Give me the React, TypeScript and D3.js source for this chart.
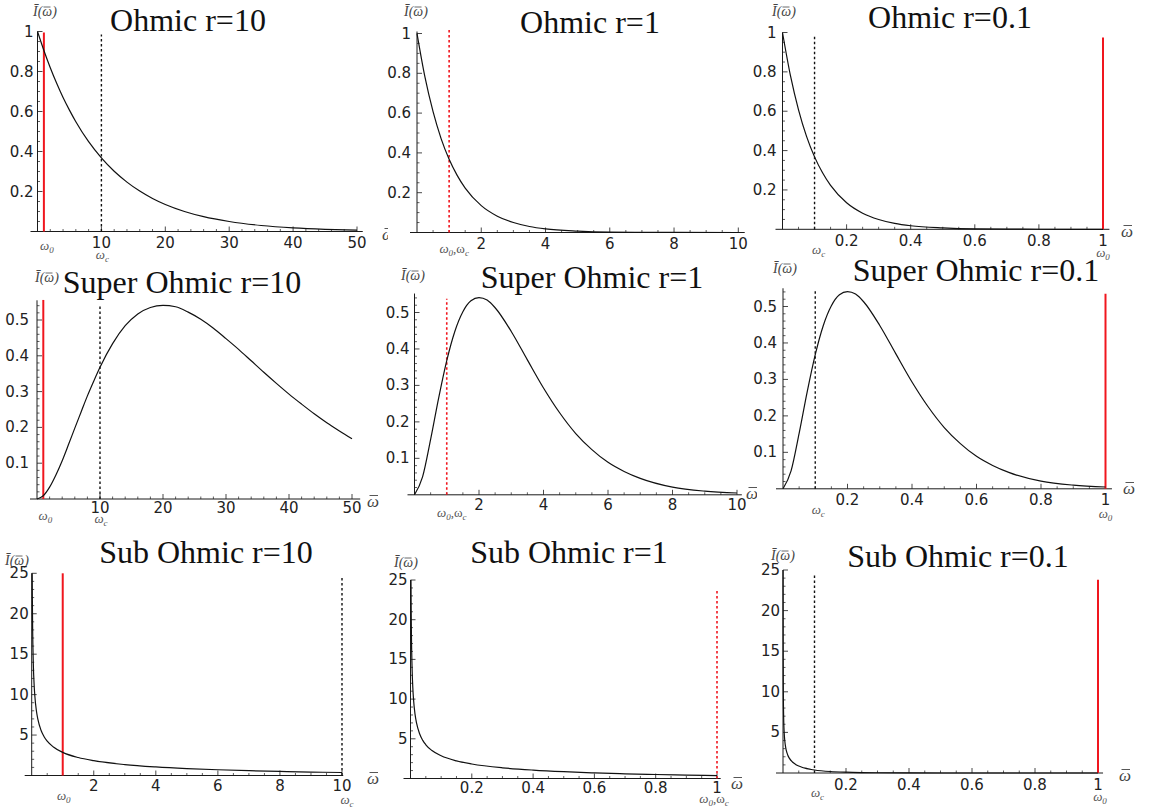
import React from 'react';
import * as d3 from 'd3';

// ---------- data ----------
const ohmicR10X = [0, 1, 2, 3, 4, 5, 6, 8, 10, 12, 14, 16, 18, 20, 23, 26, 30, 35, 40, 45, 50];
const ohmicR10Y = [1, 0.905, 0.819, 0.741, 0.67, 0.607, 0.549, 0.449, 0.368, 0.301, 0.247, 0.202, 0.165, 0.135, 0.1, 0.074, 0.05, 0.03, 0.018, 0.011, 0.007];

const ohmicR1X = [0, 0.25, 0.5, 0.75, 1, 1.25, 1.5, 2, 2.5, 3, 3.5, 4, 5, 6, 7, 8, 10];
const ohmicR1Y = [1, 0.779, 0.607, 0.472, 0.368, 0.287, 0.223, 0.135, 0.082, 0.05, 0.03, 0.018, 0.007, 0.002, 0.001, 0.0003, 0.00005];

const ohmicR01X = [0, 0.025, 0.05, 0.075, 0.1, 0.125, 0.15, 0.2, 0.25, 0.3, 0.35, 0.4, 0.5, 0.6, 0.7, 0.8, 1];
const ohmicR01Y = [1, 0.779, 0.607, 0.472, 0.368, 0.287, 0.223, 0.135, 0.082, 0.05, 0.03, 0.018, 0.007, 0.002, 0.001, 0.0003, 0.00005];

const superR10X = [0, 1, 2, 3, 4, 5, 6, 7, 8, 9, 10, 12, 14, 16, 18, 20, 22, 24, 26, 28, 30, 32, 34, 36, 38, 40, 42, 44, 46, 48, 50];
const superR10Y = [0, 0.009, 0.033, 0.067, 0.107, 0.152, 0.198, 0.243, 0.288, 0.329, 0.368, 0.434, 0.484, 0.517, 0.535, 0.541, 0.537, 0.522, 0.502, 0.477, 0.448, 0.418, 0.386, 0.354, 0.323, 0.293, 0.265, 0.238, 0.213, 0.19, 0.168];

const superR1X = [0, 0.25, 0.5, 0.75, 1, 1.25, 1.5, 1.75, 2, 2.25, 2.5, 3, 3.5, 4, 4.5, 5, 5.5, 6, 6.5, 7, 8, 9, 10];
const superR1Y = [0, 0.049, 0.152, 0.266, 0.368, 0.448, 0.502, 0.532, 0.541, 0.534, 0.513, 0.448, 0.37, 0.293, 0.225, 0.168, 0.124, 0.089, 0.064, 0.045, 0.021, 0.01, 0.005];

const superR01X = [0, 0.025, 0.05, 0.075, 0.1, 0.125, 0.15, 0.175, 0.2, 0.225, 0.25, 0.3, 0.35, 0.4, 0.45, 0.5, 0.55, 0.6, 0.65, 0.7, 0.8, 0.9, 1];
const superR01Y = [0, 0.049, 0.152, 0.266, 0.368, 0.448, 0.502, 0.532, 0.541, 0.534, 0.513, 0.448, 0.37, 0.293, 0.225, 0.168, 0.124, 0.089, 0.064, 0.045, 0.021, 0.01, 0.005];

const subR10X = [0.016, 0.02, 0.03, 0.05, 0.08, 0.1, 0.15, 0.2, 0.3, 0.4, 0.5, 0.7, 1, 1.5, 2, 3, 4, 5, 6, 7, 8, 9, 10];
const subR10Y = [25, 22.3, 18.2, 14.1, 11.1, 9.9, 8.04, 6.93, 5.6, 4.8, 4.25, 3.52, 2.86, 2.22, 1.83, 1.35, 1.06, 0.858, 0.709, 0.594, 0.502, 0.429, 0.368];

const subR1X = [0.0016, 0.002, 0.003, 0.005, 0.008, 0.01, 0.015, 0.02, 0.03, 0.04, 0.05, 0.07, 0.1, 0.15, 0.2, 0.3, 0.4, 0.5, 0.6, 0.7, 0.8, 0.9, 1];
const subR1Y = [25, 22.3, 18.2, 14.1, 11.1, 9.9, 8.04, 6.93, 5.6, 4.8, 4.25, 3.52, 2.86, 2.22, 1.83, 1.35, 1.06, 0.858, 0.709, 0.594, 0.502, 0.429, 0.368];

const subR01X = [0.00016, 0.0002, 0.0003, 0.0005, 0.0008, 0.001, 0.0015, 0.002, 0.003, 0.004, 0.005, 0.007, 0.01, 0.015, 0.02, 0.03, 0.04, 0.05, 0.06, 0.07, 0.08, 0.09, 0.1, 0.15, 0.2, 0.25, 0.3, 0.4, 0.5, 0.7, 1];
const subR01Y = [25, 22.3, 18.2, 14.1, 11.1, 9.9, 8.04, 6.93, 5.6, 4.8, 4.25, 3.52, 2.86, 2.22, 1.83, 1.35, 1.06, 0.858, 0.709, 0.594, 0.502, 0.429, 0.368, 0.182, 0.096, 0.052, 0.029, 0.009, 0.003, 0.0007, 0.00001];

const titles = ['Ohmic r=10', 'Ohmic r=1', 'Ohmic r=0.1', 'Super Ohmic r=10', 'Super Ohmic r=1', 'Super Ohmic r=0.1', 'Sub Ohmic r=10', 'Sub Ohmic r=1', 'Sub Ohmic r=0.1'];

const ticksX50 = [10, 20, 30, 40, 50];
const ticksX10 = [2, 4, 6, 8, 10];
const ticksX1 = [0.2, 0.4, 0.6, 0.8, 1];
const ticksYOhmic = [0.2, 0.4, 0.6, 0.8, 1];
const ticksYSuper = [0.1, 0.2, 0.3, 0.4, 0.5];
const ticksYSub = [5, 10, 15, 20, 25];

// marker lines: omega_0, omega_c and the heights the lines reach
const w0Values = [1, 1, 1, 1, 1, 1, 1, 1, 1];
const wcValues = [10, 1, 0.1, 10, 1, 0.1, 10, 1, 0.1];
const markerTops = [[0.995, 0.985], [1.02, 1.02], [0.975, 0.99], [0.556, 0.54], [0.538, 0.538], [0.535, 0.545], [25, 24.6], [23.9, 23.9], [23.8, 24.4]];

// ---------- layout ----------
type Layout = {
  xDom: number; xPx: [number, number]; xEnd: number; xMinor: number; xTicks: number[];
  yDom: number; yPx: [number, number]; yEnd: number; yMinor: number; yTicks: number[];
  title: [number, number]; yLab: [number, number]; wBar: [number, number, number];
  tickDy: number; yGap: number; labY: [number, number]; labDx: [number, number];
};

const layouts: Layout[] = [
  { xDom: 50, xPx: [37.5, 357], xEnd: 50.9, xMinor: 2, xTicks: ticksX50, yDom: 1, yPx: [231.5, 31.5], yEnd: 1, yMinor: 0.05, yTicks: ticksYOhmic,
    title: [188, 31], yLab: [45, 16], wBar: [382, 240, 388], tickDy: 16.5, yGap: 4, labY: [250, 259], labDx: [3, 1] },
  { xDom: 10, xPx: [417, 738.3], xEnd: 10.2, xMinor: 0.5, xTicks: ticksX10, yDom: 1, yPx: [232.5, 33.5], yEnd: 1.01, yMinor: 0.05, yTicks: ticksYOhmic,
    title: [590, 33], yLab: [416, 16], wBar: [0, 0, 0], tickDy: 16, yGap: 6, labY: [253, 253], labDx: [5, 5] },
  { xDom: 1, xPx: [782.5, 1103], xEnd: 1.02, xMinor: 0.05, xTicks: ticksX1, yDom: 1, yPx: [229.3, 32.5], yEnd: 1, yMinor: 0.05, yTicks: ticksYOhmic,
    title: [950, 28], yLab: [784, 16], wBar: [1121, 237, 1152], tickDy: 16.5, yGap: 6, labY: [257, 254], labDx: [0, 4] },
  { xDom: 50, xPx: [37, 352], xEnd: 51.3, xMinor: 2, xTicks: ticksX50, yDom: 0.5, yPx: [499, 320], yEnd: 0.555, yMinor: 0.02, yTicks: ticksYSuper,
    title: [182, 293], yLab: [47, 282], wBar: [367, 507, 390], tickDy: 14, yGap: 8, labY: [520, 523], labDx: [2, 1] },
  { xDom: 10, xPx: [414.5, 737], xEnd: 10.15, xMinor: 0.5, xTicks: ticksX10, yDom: 0.5, yPx: [494.8, 312.5], yEnd: 0.552, yMinor: 0.02, yTicks: ticksYSuper,
    title: [592, 288], yLab: [413, 280], wBar: [746, 499, 757], tickDy: 15.5, yGap: 5, labY: [517, 517], labDx: [5, 5] },
  { xDom: 1, xPx: [783, 1105.5], xEnd: 1.02, xMinor: 0.05, xTicks: ticksX1, yDom: 0.5, yPx: [488.8, 306.5], yEnd: 0.55, yMinor: 0.02, yTicks: ticksYSuper,
    title: [976, 281], yLab: [785, 273], wBar: [1123, 494, 1152], tickDy: 16, yGap: 6, labY: [518, 514], labDx: [0, 3] },
  { xDom: 10, xPx: [31.7, 342], xEnd: 10.04, xMinor: 0.5, xTicks: ticksX10, yDom: 25, yPx: [775.5, 573.3], yEnd: 25, yMinor: 1, yTicks: ticksYSub,
    title: [206, 563], yLab: [17, 565], wBar: [367, 784, 390], tickDy: 15, yGap: 3, labY: [800, 804], labDx: [1, 5] },
  { xDom: 1, xPx: [410.5, 717], xEnd: 1.012, xMinor: 0.05, xTicks: ticksX1, yDom: 25, yPx: [778.5, 580], yEnd: 25, yMinor: 1, yTicks: ticksYSub,
    title: [569, 563], yLab: [406, 567], wBar: [731, 789, 768], tickDy: 14.5, yGap: 3, labY: [803, 803], labDx: [-3, -3] },
  { xDom: 1, xPx: [783, 1098], xEnd: 1.016, xMinor: 0.05, xTicks: ticksX1, yDom: 25, yPx: [773, 570], yEnd: 25, yMinor: 1, yTicks: ticksYSub,
    title: [958, 567], yLab: [783, 560], wBar: [1119, 781, 1152], tickDy: 16.5, yGap: 3, labY: [801, 797], labDx: [2, 3] },
];

const seriesX = [ohmicR10X, ohmicR1X, ohmicR01X, superR10X, superR1X, superR01X, subR10X, subR1X, subR01X];
const seriesY = [ohmicR10Y, ohmicR1Y, ohmicR01Y, superR10Y, superR1Y, superR01Y, subR10Y, subR1Y, subR01Y];

const RED = '#f0161e';
const SANS = 'DejaVu Sans, Liberation Sans, sans-serif';
const SERIF = 'Liberation Serif, Times New Roman, serif';

function Omega({ x, y, pair }: { x: number; y: number; pair: boolean }) {
  return (
    <text x={x} y={y} textAnchor="middle" fontFamily={SERIF} fontStyle="italic" fontSize={13} fill="#555">
      {pair ? (
        <>
          <tspan>ω</tspan>
          <tspan fontSize={9} dy={3}>0</tspan>
          <tspan fontStyle="normal" dy={-3}>,ω</tspan>
          <tspan fontSize={9} dy={3}>c</tspan>
        </>
      ) : null}
    </text>
  );
}

function OmegaSub({ x, y, s }: { x: number; y: number; s: string }) {
  return (
    <text x={x} y={y} textAnchor="middle" fontFamily={SERIF} fontStyle="italic" fontSize={13} fill="#555">
      <tspan>ω</tspan>
      <tspan fontSize={9} dy={3}>{s}</tspan>
    </text>
  );
}

function YLabel({ cx, y }: { cx: number; y: number }) {
  const sx = cx - 12;
  return (
    <g>
      <text x={sx} y={y} fontFamily={SERIF} fontStyle="italic" fontSize={14} fill="#444">
        {'I\u0304(\u03C9)'}
      </text>
      <line x1={sx + 10.5} x2={sx + 17.5} y1={y - 9} y2={y - 9} stroke="#444" strokeWidth={0.8} />
    </g>
  );
}

function WBar({ x, y, clip }: { x: number; y: number; clip: string }) {
  return (
    <g clipPath={`url(#${clip})`}>
      <text x={x} y={y} fontFamily={SERIF} fontStyle="italic" fontSize={17} fill="#444">{'\u03C9'}</text>
      <line x1={x + 2.5} x2={x + 11} y1={y - 11.5} y2={y - 11.5} stroke="#444" strokeWidth={0.9} />
    </g>
  );
}

function Panel({ i }: { i: number }) {
  const L = layouts[i];
  const xs = seriesX[i];
  const ys = seriesY[i];
  const x = d3.scaleLinear().domain([0, L.xDom]).range(L.xPx);
  const y = d3.scaleLinear().domain([0, L.yDom]).range(L.yPx);
  const pts: [number, number][] = xs.map((v, k) => [v, ys[k]]);
  const line = d3.line<[number, number]>().x(d => x(d[0])).y(d => y(d[1])).curve(d3.curveMonotoneX);
  const x0 = x(0), y0 = y(0);
  const eps = 1e-9;
  const isMajor = (v: number, arr: number[]) => arr.some(t => Math.abs(t - v) < 1e-6);
  const xMinor = d3.range(0, L.xEnd + eps, L.xMinor).filter(v => v > eps && !isMajor(v, L.xTicks));
  const yMinor = d3.range(0, L.yEnd + eps, L.yMinor).filter(v => v > eps && !isMajor(v, L.yTicks));
  const w0 = w0Values[i], wc = wcValues[i];
  const [topW0, topWc] = markerTops[i];
  const same = Math.abs(w0 - wc) < 1e-9;
  const clipId = `clip${i}`;
  const stroke = '#1a1a1a';
  return (
    <g>
      <defs>
        <clipPath id={clipId}>
          <rect x={x0 - 1} y={y(L.yEnd) - 2} width={x(L.xEnd) - x0 + 2} height={y0 - y(L.yEnd) + 3} />
        </clipPath>
        {L.wBar[2] > 0 ? (
          <clipPath id={`wclip${i}`}>
            <rect x={L.wBar[0] - 5} y={L.wBar[1] - 20} width={L.wBar[2] - L.wBar[0] + 5} height={30} />
          </clipPath>
        ) : null}
      </defs>
      <text x={L.title[0]} y={L.title[1]} textAnchor="middle" fontFamily={SERIF} fontSize={32} fill="#111">{titles[i]}</text>
      <YLabel cx={L.yLab[0]} y={L.yLab[1]} />
      <line x1={x0 - 7} x2={x(L.xEnd)} y1={y0} y2={y0} stroke={stroke} strokeWidth={1} />
      <line x1={x0} x2={x0} y1={y0} y2={y(L.yEnd)} stroke={stroke} strokeWidth={1} />
      {L.xTicks.map(t => (
        <g key={'xt' + t}>
          <line x1={x(t)} x2={x(t)} y1={y0} y2={y0 - 5} stroke={stroke} strokeWidth={0.8} />
          <text x={x(t)} y={y0 + L.tickDy} textAnchor="middle" fontFamily={SANS} fontSize={15} fill="#222">{String(t)}</text>
        </g>
      ))}
      {xMinor.map(t => (
        <line key={'xm' + t} x1={x(t)} x2={x(t)} y1={y0} y2={y0 - 2.5} stroke={stroke} strokeWidth={0.7} />
      ))}
      {L.yTicks.map(t => (
        <g key={'yt' + t}>
          <line x1={x0} x2={x0 + 5} y1={y(t)} y2={y(t)} stroke={stroke} strokeWidth={0.8} />
          <text x={x0 - L.yGap} y={y(t) + 5} textAnchor="end" fontFamily={SANS} fontSize={15} fill="#222">{String(t)}</text>
        </g>
      ))}
      {yMinor.map(t => (
        <line key={'ym' + t} x1={x0} x2={x0 + 2.5} y1={y(t)} y2={y(t)} stroke={stroke} strokeWidth={0.7} />
      ))}
      {same ? (
        <line x1={x(w0)} x2={x(w0)} y1={y0} y2={y(topW0)} stroke={RED} strokeWidth={1.6} strokeDasharray="2.5,2.5" />
      ) : (
        <>
          <line x1={x(wc)} x2={x(wc)} y1={y0} y2={y(topWc)} stroke="#111" strokeWidth={1.4} strokeDasharray="2.5,2.5" />
          <line x1={x(w0)} x2={x(w0)} y1={y0} y2={y(topW0)} stroke={RED} strokeWidth={2} />
        </>
      )}
      <path d={line(pts) || ''} fill="none" stroke="#111" strokeWidth={1.2} clipPath={`url(#${clipId})`} />
      {same ? (
        <Omega x={x(w0) + L.labDx[0]} y={L.labY[0]} pair={true} />
      ) : (
        <>
          <OmegaSub x={x(w0) + L.labDx[0]} y={L.labY[0]} s="0" />
          <OmegaSub x={x(wc) + L.labDx[1]} y={L.labY[1]} s="c" />
        </>
      )}
      {L.wBar[2] > 0 ? <WBar x={L.wBar[0]} y={L.wBar[1]} clip={`wclip${i}`} /> : null}
    </g>
  );
}

export default function App() {
  return (
    <div style={{ position: 'absolute', left: 0, top: 0, width: 1152, height: 809, background: '#fff' }}>
      <svg width={1152} height={809} viewBox="0 0 1152 809" style={{ display: 'block' }}>
        <rect x={0} y={0} width={1152} height={809} fill="#fff" />
        {layouts.map((_, i) => <Panel key={i} i={i} />)}
      </svg>
    </div>
  );
}
